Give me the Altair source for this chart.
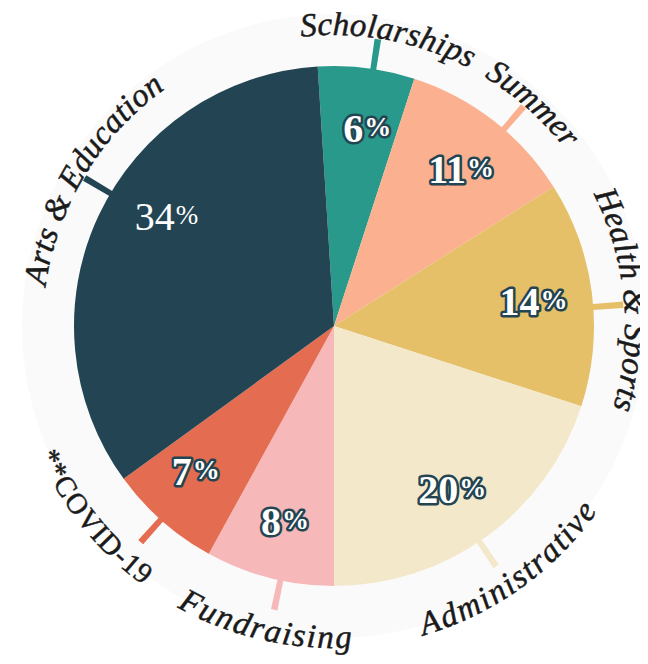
import math
import altair as alt
import numpy as np
import pandas as pd

# ---------------- data ----------------
categories = ["Scholarships", "Summer", "Health & Sports", "Administrative",
              "Fundraising", "**COVID-19", "Arts & Education"]
values = [6, 11, 14, 20, 8, 7, 34]
pct_text = ["6", "11", "14", "20", "8", "7", "34"]
colors = ["#28998a", "#fbb18f", "#e5c068", "#f3e8ca", "#f7b8b9", "#e46c50", "#234553"]

# ---------------- layout / style ----------------
W, H = 632, 648
CX, CY = 326, 318
R_PIE = 260
START_DEG = -3.6
OUTLINE = "#234451"
TEXT_COL = "#1a1a1a"
FONT = "Liberation Serif"
# small angular nudges (degrees) to follow the hand-placed reference layout
LABEL_SHIFT = {"Scholarships": 3.4, "Summer": 4, "Health & Sports": 2, "Administrative": 0.5,
               "Fundraising": -1.4, "**COVID-19": 10, "Arts & Education": 6}
TICK_SHIFT = {"Scholarships": 1.5, "Summer": 3, "Health & Sports": 3, "Administrative": 2,
              "Fundraising": -2.5, "**COVID-19": 0.4, "Arts & Education": 5.5}
PCT_SHIFT = {"Scholarships": 2, "Summer": 1, "**COVID-19": 2.5, "Arts & Education": 8}
PLAIN_PCT = {"Arts & Education"}

theta_scale = alt.Scale(domain=[0, 100],
                        range=[math.radians(START_DEG), math.radians(START_DEG) + 2 * math.pi])

ITALIC_W = {'S': 500, 'c': 444, 'h': 500, 'o': 500, 'l': 278, 'a': 500, 'r': 389, 's': 389,
            'i': 278, 'p': 500, 'u': 500, 'm': 722, 'e': 444, 'H': 722, 't': 278, ' ': 250,
            '&': 778, 'A': 611, 'd': 500, 'n': 500, 'v': 444, 'E': 611, 'F': 611, 'g': 500}
ROMAN_W = {'*': 500, 'C': 667, 'O': 722, 'V': 722, 'I': 333, 'D': 722, '-': 333, '1': 500, '9': 500}

base = pd.DataFrame({"cat": categories, "value": values, "order": list(range(len(values)))})
cum = np.cumsum(values)
mids = cum - np.array(values) / 2.0
base["mid"] = mids
tick_mid = np.array([m + TICK_SHIFT.get(c, 0) / 3.6 for c, m in zip(categories, mids)])
base["t0"] = tick_mid - 0.18
base["t1"] = tick_mid + 0.18
base["pmid"] = [m + PCT_SHIFT.get(c, 0) / 3.6 for c, m in zip(categories, mids)]
base["num"] = pct_text

color_enc = alt.Color("cat:N", scale=alt.Scale(domain=categories, range=colors), legend=None)

# curved label characters
R_EFF = 303
rows = []
for cat, mid in zip(categories, mids):
    roman = cat.startswith("**")
    size = 29 if roman else 33
    wtab = ROMAN_W if roman else ITALIC_W
    spacing = 0.0 if roman else 0.9
    widths = [wtab.get(c, 500) / 1000.0 * size + spacing for c in cat]
    total = sum(widths)
    mid_deg = START_DEG + mid * 3.6 + LABEL_SHIFT.get(cat, 0)
    bottom = 100 < mid_deg < 260
    r_base = 322 if bottom else 291
    pos = 0.0
    for c, w in zip(cat, widths):
        center = pos + w / 2.0 - total / 2.0
        pos += w
        dphi = math.degrees(center / R_EFF)
        phi = mid_deg - dphi if bottom else mid_deg + dphi
        rot = (phi - 180) if bottom else phi
        rows.append(dict(ch=c, th=(phi - START_DEG) / 3.6, rot=rot % 360, r=r_base, roman=roman))
chars = pd.DataFrame(rows)

# ---------------- layers ----------------
bg = alt.Chart(pd.DataFrame({"k": [0]})).mark_arc(
    theta=2 * math.pi, outerRadius=312, x=CX, y=CY
).encode(color=alt.value("#fafafa"))

ticks = alt.Chart(base).mark_arc(innerRadius=240, outerRadius=290, x=CX, y=CY).encode(
    theta=alt.Theta("t0:Q", scale=theta_scale), theta2="t1:Q", color=color_enc)

pie = alt.Chart(base).mark_arc(outerRadius=R_PIE, x=CX, y=CY).encode(
    theta=alt.Theta("value:Q", stack=True, scale=theta_scale),
    order=alt.Order("order:Q"), color=color_enc)


def char_layer(df, size, style):
    return alt.Chart(df).mark_text(
        font=FONT, fontStyle=style, fontSize=size, align="center",
        baseline="alphabetic", x=CX, y=CY, fill=TEXT_COL, stroke=TEXT_COL, strokeWidth=0.5
    ).encode(
        theta=alt.Theta("th:Q", scale=theta_scale),
        radius=alt.Radius("r:Q", scale=None),
        angle=alt.Angle("rot:Q", scale=None),
        text="ch:N")


ital = char_layer(chars[~chars.roman], 33, "italic")
roman = char_layer(chars[chars.roman], 29, "normal")


def pct_layers(df, dx_num, dx_pct, weight, outline):
    out = []
    common = dict(font=FONT, fontWeight=weight, baseline="alphabetic",
                  radius=201, x=CX, y=CY)
    th = alt.Theta("pmid:Q", scale=theta_scale)
    styles = []
    if outline:
        styles.append(dict(fill=OUTLINE, stroke=OUTLINE, strokeWidth=5, strokeJoin="round"))
    styles.append(dict(fill="white"))
    for st in styles:
        out.append(alt.Chart(df).mark_text(fontSize=40, align="right", dx=dx_num, dy=14,
                                           **common, **st).encode(theta=th, text="num:N"))
        out.append(alt.Chart(df).mark_text(fontSize=27, align="left", dx=dx_pct, dy=8,
                                           **common, **st).encode(theta=th, text=alt.value("%")))
    return out


plain = base[base.cat.isin(PLAIN_PCT)]
outl = base[~base.cat.isin(PLAIN_PCT)]
two = outl[outl.num.str.len() == 2]
one = outl[outl.num.str.len() == 1]

pct = []
pct += pct_layers(plain, 9, 10, "normal", False)
pct += pct_layers(two, 6, 7, "bold", True)
pct += pct_layers(one, -3, -2, "bold", True)

chart = alt.layer(bg, ticks, pie, ital, roman, *pct).properties(
    width=W, height=H, padding=0, autosize=alt.AutoSizeParams(type="none")
).configure_view(strokeWidth=0)

chart.save("out.html", embed_options={"renderer": "svg", "actions": False})
